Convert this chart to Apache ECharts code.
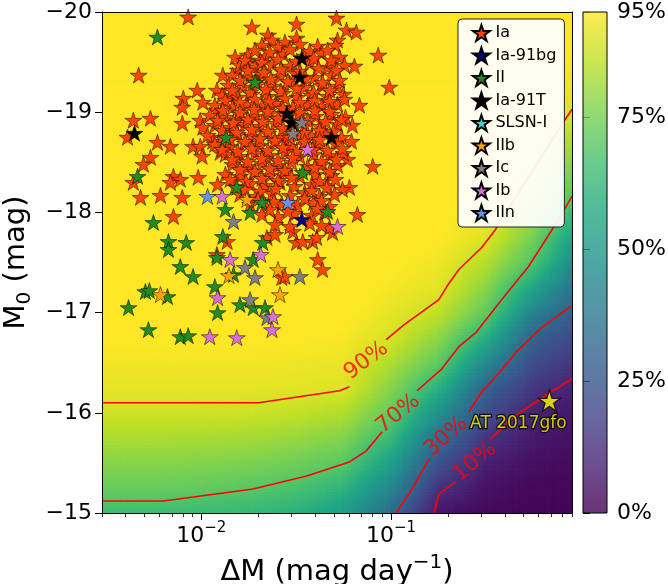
<!DOCTYPE html>
<html><head><meta charset="utf-8">
<script src="https://cdn.jsdelivr.net/npm/echarts@6/dist/echarts.min.js"></script>
<style>html,body{margin:0;padding:0;background:#fff}#c{width:668px;height:584px}</style>
</head><body><div id="c"></div>
<script>
// ---------------- DATA ----------------
const xMajorTicks = [0.01, 0.1];
const xMinorTicks = [0.003,0.004,0.005,0.006,0.007,0.008,0.009,0.02,0.03,0.04,0.05,0.06,0.07,0.08,0.09,0.2,0.3,0.4,0.5,0.6,0.7,0.8,0.9];
const yTicks = [-20,-19,-18,-17,-16,-15];
const cbarTicks = [0,25,50,75,95];

// efficiency map (%) on nodes: columns = effDM, rows = effM
const effDM = [0.003, 0.00562, 0.01, 0.0178, 0.0316, 0.0562, 0.1, 0.178, 0.316, 0.562, 0.9];
const effM = [-15,-15.25,-15.5,-15.75,-16,-16.25,-16.5,-16.75,-17,-17.25,-17.5,-17.75,-18,-18.25,-18.5,-18.75,-19,-19.25,-19.5,-19.75,-20];
const effRows = [
[65,65,64,63,60,52,33,5,2,1,0.8],
[72.7,72.7,71.7,70.2,67.3,61.1,43.1,13.7,4.5,2,1.5],
[77.8,77.8,77.1,76.1,74.0,70.3,53.3,23.9,8,4,2.5],
[82.9,82.9,82.5,81.9,80.1,77.0,63.5,35,14.4,6.5,4],
[88.0,88.0,87.8,87.7,86.3,83.8,72.0,47.5,22.2,9,6],
[91.3,91.3,91.3,91.3,90.8,90.2,77.7,60,30,14.9,8.8],
[93.3,93.3,93.3,93.3,92.9,92.3,83.3,71.5,44.7,22.2,14.4],
[95.2,95.2,95.2,95.2,95,94.3,88.9,78.8,59.4,29.4,21.2],
[96.2,96.2,96.2,96.2,96,95.8,91.7,86.2,71.8,42.1,28.1],
[97,97,97,97,96.8,96.8,93.8,91,78.1,55.3,36.6],
[97,97,97,97,97,97,95.4,93.1,84.4,68.4,45.8],
[97,97,97,97,97,97,96.4,95.1,90.3,75,55],
[97,97,97,97,97,97,97,96.1,92.3,80.6,64.1],
[97,97,97,97,97,97,97,97,94.4,86.2,72.1],
[97,97,97,97,97,97,97,97,95.7,90.7,77.8],
[97,97,97,97,97,97,97,97,96.7,92.8,83.6],
[97,97,97,97,97,97,97,97,97,94.8,89.3],
[97,97,97,97,97,97,97,97,97,95.8,91.8],
[97,97,97,97,97,97,97,97,97,96.8,93.9],
[97,97,97,97,97,97,97,97,97,97,95.3],
[97,97,97,97,97,97,97,97,97,97,96.3]
];

// contour lines [ΔM, M0], split where the labels sit
const contour90 = [
  [[0.003,-16.10],[0.0201,-16.10],[0.0536,-16.22],[0.0604,-16.26]],
  [[0.0944,-16.73],[0.1175,-16.88],[0.179,-17.13],[0.197,-17.26],[0.228,-17.43],[0.301,-17.65],[0.356,-17.83],[0.791,-18.87],[0.9,-19.03]]
];
const contour70 = [
  [[0.003,-15.12],[0.00632,-15.12],[0.01875,-15.24],[0.0360,-15.37],[0.0604,-15.51],[0.0741,-15.62],[0.0899,-15.81]],
  [[0.1374,-16.22],[0.1836,-16.43],[0.228,-16.66],[0.280,-16.80],[0.384,-17.13],[0.531,-17.46],[0.621,-17.66],[0.764,-17.93],[0.9,-18.16]]
];
const contour30 = [
  [[0.1065,-15.0],[0.1294,-15.24],[0.1589,-15.54]],
  [[0.2576,-16.01],[0.3013,-16.21],[0.384,-16.43],[0.454,-16.60],[0.621,-16.85],[0.9,-17.07]]
];
const contour10 = [
  [[0.1687,-15.0],[0.179,-15.19],[0.2198,-15.31]],
  [[0.3357,-15.74],[0.4325,-15.94],[0.5125,-16.04],[0.652,-16.17],[0.9,-16.34]]
];
const contourLabels = [
  ['90%', 0.0741, -16.52],
  ['70%', 0.1092, -15.99],
  ['30%', 0.195, -15.76],
  ['10%', 0.2767, -15.51]
];

const typeIa = [
[0.00854,-19.95],[0.0185,-19.85],[0.0225,-19.77],[0.0236,-19.72],[0.0318,-19.88],[0.0516,-19.94],[0.0583,-19.82],[0.0657,-19.80],[0.0523,-19.72],[0.0318,-19.74],[0.0276,-19.70],[0.0857,-19.57],[0.0642,-19.46],[0.0980,-19.25],[0.0682,-19.07],[0.0626,-18.87],[0.0619,-18.71],[0.0590,-18.53],[0.0802,-18.46],
[0.00468,-19.37],[0.00439,-18.92],[0.00540,-18.94],[0.00409,-18.75],[0.00588,-18.70],[0.00688,-18.66],[0.00540,-18.55],[0.00496,-18.48],
[0.00805,-19.14],[0.00953,-19.22],[0.00795,-18.89],[0.00988,-18.92],[0.00906,-18.66],[0.0130,-19.37],[0.0151,-19.55],
[0.00439,-18.30],[0.00479,-18.15],[0.00610,-18.17],[0.00795,-18.15],[0.00714,-18.36],[0.00776,-18.33],[0.00688,-18.30],[0.00964,-18.35],[0.00714,-17.96],
[0.0137,-17.71],[0.0121,-17.58],[0.0222,-17.75],[0.0245,-17.78],[0.0266,-17.35],[0.0276,-17.36],[0.0411,-17.53],[0.0436,-17.43],[0.0318,-17.70],[0.0343,-17.71],[0.0387,-17.71],[0.0406,-17.75],[0.0492,-17.80],[0.0604,-18.25],[0.0555,-18.23],[0.0665,-17.98],[0.0475,-17.85],[0.0304,-17.81],
[0.00795,-19.05],[0.0102,-19.10],[0.0121,-19.22],[0.0156,-19.42],[0.0174,-19.49],[0.0204,-19.52],[0.0102,-18.85],[0.00988,-18.66],[0.0101,-18.56],[0.0126,-18.60],[0.0115,-18.71],[0.0121,-19.02],[0.0142,-19.15],[0.0154,-18.92],
[0.0209,-19.67],[0.0254,-19.65],[0.0331,-19.68],[0.0411,-19.66],[0.0510,-19.67],
[0.0176,-19.57],[0.0217,-19.55],[0.0270,-19.58],[0.0351,-19.56],[0.0431,-19.59],[0.0536,-19.55],
[0.0160,-19.47],[0.0192,-19.45],[0.0236,-19.48],[0.0293,-19.46],[0.0373,-19.49],[0.0463,-19.45],[0.0569,-19.47],
[0.0146,-19.37],[0.0181,-19.35],[0.0209,-19.38],[0.0260,-19.36],[0.0315,-19.39],[0.0396,-19.35],[0.0486,-19.37],
[0.0139,-19.27],[0.0166,-19.25],[0.0199,-19.28],[0.0239,-19.26],[0.0293,-19.29],[0.0351,-19.25],[0.0431,-19.27],[0.0523,-19.26],
[0.0129,-19.17],[0.0156,-19.15],[0.0185,-19.18],[0.0225,-19.16],[0.0270,-19.19],[0.0322,-19.15],[0.0382,-19.17],[0.0463,-19.16],[0.0562,-19.18],
[0.0118,-19.07],[0.0146,-19.05],[0.0174,-19.08],[0.0209,-19.06],[0.0247,-19.09],[0.0304,-19.05],[0.0364,-19.07],[0.0431,-19.06],[0.0523,-19.08],
[0.0111,-18.97],[0.0134,-18.95],[0.0160,-18.98],[0.0192,-18.96],[0.0230,-18.99],[0.0276,-18.95],[0.0331,-18.97],[0.0401,-18.96],[0.0486,-18.98],[0.0576,-18.95],
[0.0118,-18.87],[0.0142,-18.85],[0.0170,-18.88],[0.0204,-18.86],[0.0245,-18.89],[0.0293,-18.85],[0.0351,-18.87],[0.0421,-18.86],[0.0523,-18.88],
[0.0108,-18.77],[0.0129,-18.75],[0.0156,-18.78],[0.0185,-18.76],[0.0225,-18.79],[0.0266,-18.75],[0.0322,-18.77],[0.0382,-18.76],[0.0452,-18.78],[0.0549,-18.75],
[0.0118,-18.68],[0.0142,-18.66],[0.0170,-18.69],[0.0204,-18.67],[0.0245,-18.70],[0.0293,-18.66],[0.0351,-18.68],[0.0421,-18.67],[0.0510,-18.69],
[0.0134,-18.58],[0.0160,-18.56],[0.0192,-18.59],[0.0230,-18.57],[0.0276,-18.60],[0.0331,-18.56],[0.0391,-18.58],[0.0475,-18.57],[0.0562,-18.59],
[0.0146,-18.48],[0.0176,-18.46],[0.0209,-18.49],[0.0254,-18.47],[0.0300,-18.50],[0.0364,-18.46],[0.0431,-18.48],[0.0523,-18.47],
[0.0134,-18.38],[0.0160,-18.36],[0.0192,-18.39],[0.0230,-18.37],[0.0276,-18.40],[0.0331,-18.36],[0.0401,-18.38],[0.0486,-18.37],
[0.0122,-18.28],[0.0151,-18.26],[0.0181,-18.29],[0.0217,-18.27],[0.0260,-18.30],[0.0311,-18.26],[0.0382,-18.28],[0.0463,-18.27],
[0.0160,-18.18],[0.0194,-18.16],[0.0236,-18.19],[0.0293,-18.17],[0.0351,-18.20],[0.0421,-18.16],[0.0504,-18.18],
[0.0181,-18.08],[0.0219,-18.06],[0.0266,-18.09],[0.0322,-18.07],[0.0391,-18.10],[0.0475,-18.06],
[0.0209,-17.98],[0.0254,-17.96],[0.0311,-17.99],[0.0382,-17.97],[0.0447,-18.00],
[0.0245,-17.88],[0.0293,-17.86],[0.0373,-17.89],[0.0431,-17.87],
[0.0192,-19.62],[0.0230,-19.60],[0.0293,-19.63],[0.0373,-19.61],[0.0463,-19.62],
[0.0170,-19.52],[0.0209,-19.50],[0.0254,-19.53],[0.0318,-19.51],[0.0391,-19.54],[0.0486,-19.52],
[0.0176,-19.42],[0.0214,-19.40],[0.0263,-19.43],[0.0331,-19.41],[0.0416,-19.44],[0.0516,-19.42],
[0.0160,-19.32],[0.0194,-19.30],[0.0233,-19.33],[0.0286,-19.31],[0.0355,-19.34],[0.0436,-19.30],[0.0536,-19.32],
[0.0146,-19.22],[0.0181,-19.20],[0.0219,-19.23],[0.0263,-19.21],[0.0318,-19.24],[0.0391,-19.20],[0.0475,-19.22],
[0.0134,-19.12],[0.0160,-19.10],[0.0192,-19.13],[0.0228,-19.11],[0.0276,-19.14],[0.0331,-19.10],[0.0396,-19.12],[0.0475,-19.11],[0.0569,-19.13],
[0.0130,-19.02],[0.0160,-19.00],[0.0190,-19.03],[0.0225,-19.01],[0.0270,-19.04],[0.0331,-19.00],[0.0396,-19.02],[0.0475,-19.01],
[0.0122,-18.92],[0.0148,-18.90],[0.0176,-18.93],[0.0211,-18.91],[0.0254,-18.94],[0.0304,-18.90],[0.0364,-18.92],[0.0452,-18.91],[0.0549,-18.93],
[0.0129,-18.82],[0.0154,-18.80],[0.0185,-18.83],[0.0225,-18.81],[0.0270,-18.84],[0.0351,-18.80],[0.0421,-18.82],[0.0498,-18.81],
[0.0142,-18.73],[0.0170,-18.71],[0.0204,-18.74],[0.0245,-18.72],[0.0293,-18.75],[0.0351,-18.71],[0.0421,-18.73],
[0.0129,-18.63],[0.0156,-18.61],[0.0185,-18.64],[0.0225,-18.62],[0.0270,-18.65],[0.0318,-18.61],[0.0387,-18.63],[0.0463,-18.62],[0.0555,-18.64],
[0.0146,-18.53],[0.0176,-18.51],[0.0209,-18.54],[0.0254,-18.52],[0.0304,-18.55],[0.0431,-18.51],[0.0516,-18.53],
[0.0160,-18.43],[0.0192,-18.41],[0.0230,-18.44],[0.0276,-18.42],[0.0396,-18.45],[0.0475,-18.41],
[0.0142,-18.33],[0.0172,-18.31],[0.0209,-18.34],[0.0254,-18.32],[0.0300,-18.35],[0.0421,-18.31],[0.0510,-18.33],
[0.0170,-18.23],[0.0204,-18.21],[0.0247,-18.24],[0.0382,-18.22],[0.0458,-18.25],
[0.0199,-18.13],[0.0242,-18.11],[0.0351,-18.14],[0.0431,-18.12],
[0.0230,-18.03],[0.0286,-18.01],[0.0411,-18.04]
];
const typeIa91bg = [[0.0339,-17.93]];
const typeII = [
[0.00588,-19.75],[0.0192,-19.30],[0.0135,-18.75],[0.00462,-18.36],[0.00560,-17.90],[0.00672,-17.71],[0.00834,-17.70],[0.00672,-17.63],
[0.00776,-17.46],[0.00906,-17.36],[0.00508,-17.21],[0.00533,-17.22],[0.00664,-17.16],[0.00414,-17.05],[0.0118,-17.26],[0.0122,-17.00],
[0.00527,-16.83],[0.00776,-16.76],[0.00854,-16.77],[0.0130,-17.76],[0.0121,-17.55],[0.0148,-17.38],[0.0188,-17.53],[0.0211,-17.70],
[0.0154,-18.25],[0.0134,-18.03],[0.0181,-18.00],[0.0209,-18.10],[0.0160,-17.08],[0.0188,-17.05],[0.0217,-17.05],[0.0343,-18.40],[0.0463,-18.01]
];
const typeIa91T = [[0.00445,-18.79],[0.0339,-19.54],[0.0331,-19.35],[0.0283,-18.99],[0.0300,-18.90],[0.0486,-18.75]];
const typeSLSN = [];
const typeIIb = [[0.00610,-17.18],[0.0140,-17.37],[0.0174,-18.13],[0.0254,-17.43],[0.0260,-17.18]];
const typeIc = [[0.0339,-18.90],[0.0304,-18.79],[0.0148,-17.91],[0.0170,-17.45],[0.0192,-17.35],[0.0331,-17.36],[0.0181,-17.13],[0.0222,-16.95]];
const typeIb = [[0.0364,-18.63],[0.0129,-18.16],[0.0523,-17.86],[0.0142,-17.53],[0.0206,-17.58],[0.0122,-17.15],[0.0111,-16.76],[0.0154,-16.75],[0.0239,-16.96],[0.0236,-16.83]];
const typeIIn = [[0.0108,-18.16],[0.0286,-18.10]];
const at2017gfo = [[0.684,-16.12]];

// ---------------- CHART ----------------
const LX = v => Math.log10(v);
const X_MIN = LX(0.003), X_MAX = LX(0.9);
const FONT = 'DejaVu Sans';
const STAR = 'path://M0,-1 L0.2245,-0.309 L0.9511,-0.309 L0.3633,0.118 L0.5878,0.809 L0,0.382 L-0.5878,0.809 L-0.3633,0.118 L-0.9511,-0.309 L-0.2245,-0.309 Z';
const VIR = ['#440154','#482475','#414487','#355f8d','#2a788e','#21918c','#22a884','#44bf70','#7ad151','#bddf26','#fde725'];
const hex = c => [parseInt(c.slice(1,3),16),parseInt(c.slice(3,5),16),parseInt(c.slice(5,7),16)];
const VIRRGB = VIR.map(hex);
function viridis(t){
  t = Math.max(0, Math.min(1, t));
  const f = t*10, i = Math.min(9, Math.floor(f)), r = f - i;
  const a = VIRRGB[i], b = VIRRGB[i+1];
  return 'rgb(' + [0,1,2].map(k => Math.round(a[k]+(b[k]-a[k])*r)).join(',') + ')';
}

const cells = [];
for (let j = 0; j < effM.length-1; j++)
  for (let i = 0; i < effDM.length-1; i++)
    cells.push([(LX(effDM[i])+LX(effDM[i+1]))/2, (effM[j]+effM[j+1])/2, i, j]);

function renderCell(params, api){
  const i = api.value(2), j = api.value(3);
  const x0 = LX(effDM[i]), x1 = LX(effDM[i+1]);
  const m0 = effM[j], m1 = effM[j+1];
  const v00 = effRows[j][i], v10 = effRows[j][i+1], v01 = effRows[j+1][i], v11 = effRows[j+1][i+1];
  const sat = Math.min(v00,v10,v01,v11) >= 95;
  const nx = sat ? 1 : 14, ny = sat ? 1 : 8;
  const children = [];
  for (let a = 0; a < nx; a++) for (let b = 0; b < ny; b++) {
    const fxc = (a+0.5)/nx, fyc = (b+0.5)/ny;
    const v = v00*(1-fxc)*(1-fyc) + v10*fxc*(1-fyc) + v01*(1-fxc)*fyc + v11*fxc*fyc;
    const p0 = api.coord([x0+(x1-x0)*a/nx, m0+(m1-m0)*b/ny]);
    const p1 = api.coord([x0+(x1-x0)*(a+1)/nx, m0+(m1-m0)*(b+1)/ny]);
    children.push({type:'rect', shape:{x:Math.min(p0[0],p1[0]), y:Math.min(p0[1],p1[1]),
      width:Math.abs(p1[0]-p0[0])+0.7, height:Math.abs(p1[1]-p0[1])+0.7},
      style:{fill: viridis(v/95)}});
  }
  return {type:'group', children};
}

function renderCbar(params, api){
  const p0 = api.coord([0, 0]), p1 = api.coord([1, 95]);
  const stops = VIRRGB.map((c,k) => ({offset:k/10, color:'rgba('+c[0]+','+c[1]+','+c[2]+',0.8)'}));
  return {type:'rect', shape:{x:p0[0], y:p1[1], width:p1[0]-p0[0], height:p0[1]-p1[1]},
    style:{fill: new echarts.graphic.LinearGradient(0,1,0,0,stops), stroke:'#000', lineWidth:1}};
}

const starSeries = (name, data, color) => ({
  name, type:'scatter', xAxisIndex:0, yAxisIndex:0, z:4,
  data: data.map(p => [LX(p[0]), p[1]]),
  symbol: STAR, symbolSize:[17,16],
  itemStyle:{color, borderColor:'#000', borderWidth:0.5, opacity:1},
  emphasis:{disabled:true}
});

const lineSeries = [];
[contour90, contour70, contour30, contour10].forEach(c => c.forEach(seg => lineSeries.push({
  type:'line', xAxisIndex:0, yAxisIndex:0, z:3, symbol:'none', silent:true,
  data: seg.map(p => [LX(p[0]), p[1]]),
  lineStyle:{color:'#ff0000', width:1.6}
})));

const labelAngles = {'90%':37, '70%':39, '30%':41, '10%':40};

const option = {
  animation:false,
  backgroundColor:'#fff',
  textStyle:{fontFamily:FONT},
  grid:[
    {left:102, top:12, width:470, height:501, outerBoundsMode:'none', containLabel:false},
    {left:583, top:12, width:24, height:501, outerBoundsMode:'none', containLabel:false}
  ],
  xAxis:[
    {type:'value', gridIndex:0, min:X_MIN, max:X_MAX, position:'bottom', z:10,
     axisLine:{show:true, onZero:false, lineStyle:{color:'#000', width:1}},
     axisTick:{show:true, customValues:xMajorTicks.map(LX), length:7, lineStyle:{color:'#000', width:1}},
     axisLabel:{show:true, customValues:xMajorTicks.map(LX), margin:8, color:'#000', fontFamily:FONT,
       formatter: v => '{b|10}{s|−' + (-Math.round(v)) + '}',
       rich:{b:{fontSize:22, lineHeight:30, fontFamily:FONT, color:'#000'},
             s:{fontSize:15, lineHeight:15, verticalAlign:'top', fontFamily:FONT, color:'#000'}}},
     splitLine:{show:false},
     name:'{b|ΔM (mag day}{s|−1}{b|)}', nameLocation:'middle', nameGap:40,
     nameTextStyle:{color:'#000', fontFamily:FONT,
       rich:{b:{fontSize:29, lineHeight:38, fontFamily:FONT, color:'#000'},
             s:{fontSize:20, lineHeight:20, verticalAlign:'top', fontFamily:FONT, color:'#000'}}}},
    {type:'value', gridIndex:0, min:X_MIN, max:X_MAX, position:'bottom', z:10,
     axisLine:{show:false},
     axisTick:{show:true, customValues:xMinorTicks.map(LX), length:4, lineStyle:{color:'#000', width:0.8}},
     axisLabel:{show:false}, splitLine:{show:false}},
    {type:'value', gridIndex:0, min:X_MIN, max:X_MAX, position:'top', z:10,
     axisLine:{show:true, onZero:false, lineStyle:{color:'#000', width:1}},
     axisTick:{show:false}, axisLabel:{show:false}, splitLine:{show:false}},
    {type:'value', gridIndex:1, min:0, max:1, show:false}
  ],
  yAxis:[
    {type:'value', gridIndex:0, min:-20, max:-15, interval:1, inverse:true, position:'left', z:10,
     axisLine:{show:true, onZero:false, lineStyle:{color:'#000', width:1}},
     axisTick:{show:true, length:7, lineStyle:{color:'#000', width:1}},
     axisLabel:{margin:10, fontSize:22, color:'#000', fontFamily:FONT, formatter: v => String(v).replace('-', '−')},
     splitLine:{show:false},
     name:'{b|M}{s|0}{b| (mag)}', nameLocation:'middle', nameGap:60,
     nameTextStyle:{color:'#000', fontFamily:FONT,
       rich:{b:{fontSize:29, lineHeight:36, fontFamily:FONT, color:'#000'},
             s:{fontSize:20, lineHeight:20, verticalAlign:'bottom', fontFamily:FONT, color:'#000'}}}},
    {type:'value', gridIndex:0, min:-20, max:-15, inverse:true, position:'right', z:10,
     axisLine:{show:true, onZero:false, lineStyle:{color:'#000', width:1}},
     axisTick:{show:false}, axisLabel:{show:false}, splitLine:{show:false}},
    {type:'value', gridIndex:1, min:0, max:95, position:'right',
     axisLine:{show:false},
     axisTick:{show:true, customValues:cbarTicks, length:7, lineStyle:{color:'#000', width:1}},
     axisLabel:{show:true, customValues:cbarTicks, margin:10, fontSize:22, color:'#000', fontFamily:FONT, formatter: v => v + '%'},
     splitLine:{show:false}}
  ],
  legend:{
    data:['Ia','Ia-91bg','II','Ia-91T','SLSN-I','IIb','Ic','Ib','IIn'],
    orient:'vertical', left:458, top:19, z:20,
    padding:[5,8,5,14], itemGap:4.5, itemWidth:18, itemHeight:16,
    icon: STAR,
    backgroundColor:'rgba(255,255,255,0.92)', borderColor:'#222', borderWidth:1, borderRadius:4,
    textStyle:{fontSize:16, color:'#000', fontFamily:FONT}
  },
  series:[
    {type:'custom', xAxisIndex:0, yAxisIndex:0, z:1, silent:true, renderItem:renderCell,
     data:cells, encode:{x:0, y:1}},
    {type:'custom', xAxisIndex:3, yAxisIndex:2, z:1, silent:true, renderItem:renderCbar,
     data:[[0.5, 47.5]], encode:{x:0, y:1}},
    ...lineSeries,
    {type:'scatter', xAxisIndex:0, yAxisIndex:0, z:3, silent:true,
     data: contourLabels.map(l => ({value:[LX(l[1]), l[2]],
       label:{show:true, formatter:l[0], rotate:labelAngles[l[0]]}})),
     symbol:'circle', symbolSize:1, itemStyle:{color:'rgba(0,0,0,0)'},
     label:{position:'inside', color:'#ff0000', fontSize:22, fontFamily:FONT}},
    starSeries('Ia', typeIa, '#ff4500'),
    starSeries('Ia-91bg', typeIa91bg, '#000080'),
    starSeries('II', typeII, '#228b22'),
    starSeries('Ia-91T', typeIa91T, '#000000'),
    starSeries('SLSN-I', typeSLSN, '#48d1cc'),
    starSeries('IIb', typeIIb, '#ffa500'),
    starSeries('Ic', typeIc, '#808080'),
    starSeries('Ib', typeIb, '#da70d6'),
    starSeries('IIn', typeIIn, '#6495ed'),
    {type:'scatter', xAxisIndex:0, yAxisIndex:0, z:6, silent:true,
     data: at2017gfo.map(p => [LX(p[0]), p[1]]),
     symbol: STAR, symbolSize:[22,21],
     itemStyle:{color:'#ffff00', borderColor:'#000', borderWidth:1.2},
     label:{show:true, formatter:'AT 2017gfo', position:'inside', offset:[-31,23],
       color:'#ffff00', fontSize:17, fontFamily:FONT, textBorderColor:'#000', textBorderWidth:2.5}}
  ]
};
const chart = echarts.init(document.getElementById('c'), null, {renderer:'canvas'});
chart.setOption(option);
</script>
</body></html>
